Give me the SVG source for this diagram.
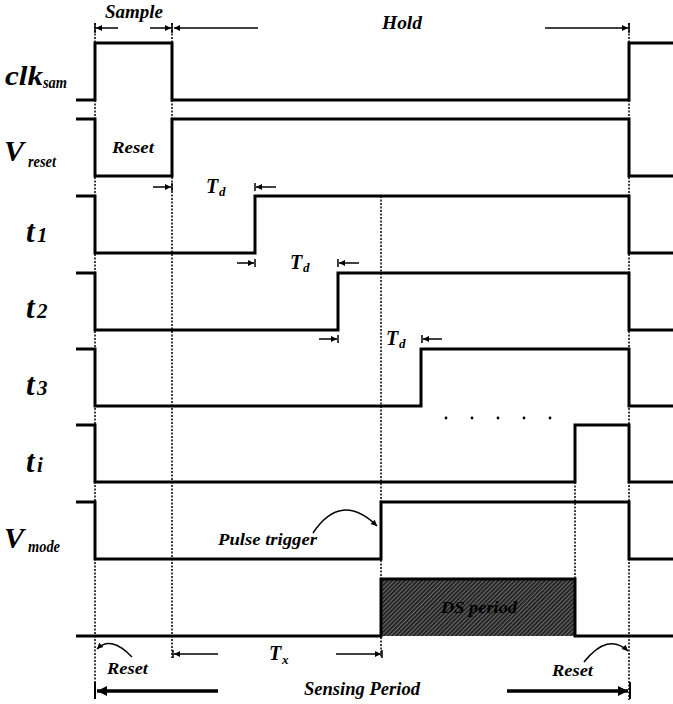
<svg xmlns="http://www.w3.org/2000/svg" width="673" height="704" viewBox="0 0 673 704">
<style>
text{font-family:"Liberation Serif","Times New Roman",serif;font-weight:bold;font-style:italic;fill:#000}
.sig{fill:none;stroke:#000;stroke-width:3;stroke-linejoin:miter}
.dot{fill:none;stroke:#000;stroke-width:1.5;stroke-dasharray:2 1.5}
.thin{fill:none;stroke:#000;stroke-width:1.5}
.tick{stroke:#000;stroke-width:1.5}
.thick{fill:none;stroke:#000;stroke-width:3.5}
.sub{font-weight:bold}
</style>
<defs>
<marker id="ah" viewBox="0 0 10 10" refX="10" refY="5" markerWidth="7" markerHeight="6" markerUnits="userSpaceOnUse" orient="auto"><path d="M0,0 L10,5 L0,10 z" fill="#000"/></marker>
<marker id="ahb" viewBox="0 0 10 10" refX="10" refY="5" markerWidth="12" markerHeight="10" markerUnits="userSpaceOnUse" orient="auto"><path d="M0,0 L10,5 L0,10 z" fill="#000"/></marker>
<pattern id="hatch" width="3" height="3" patternUnits="userSpaceOnUse" patternTransform="rotate(45)"><rect width="3" height="3" fill="#666"/><line x1="0.8" y1="0" x2="0.8" y2="3" stroke="#1a1a1a" stroke-width="1.7"/></pattern>
</defs>
<rect width="673" height="704" fill="#fff"/>

<g id="guides">
<line class="dot" x1="95" y1="23" x2="95" y2="698"/>
<line class="dot" x1="172" y1="23" x2="172" y2="658"/>
<line class="dot" x1="381" y1="196" x2="381" y2="658"/>
<line class="dot" x1="575" y1="482" x2="575" y2="580"/>
<line class="dot" x1="629" y1="23" x2="629" y2="700"/>
</g>

<g id="clk_sam">
<polyline class="sig" points="76,100 95,100 95,43 172,43 172,100 629,100 629,43 673,43"/>
<text x="5" y="85" font-size="27" textLength="38" lengthAdjust="spacingAndGlyphs">clk</text>
<text x="43" y="88" font-size="17" textLength="24" lengthAdjust="spacingAndGlyphs">sam</text>
</g>
<g id="v_reset">
<polyline class="sig" points="76,119 95,119 95,176 172,176 172,119 629,119 629,176 673,176"/>
<text x="4" y="161" font-size="30">V</text>
<text x="28" y="167" font-size="16" textLength="28" lengthAdjust="spacingAndGlyphs">reset</text>
<text x="112" y="153" font-size="17" textLength="42" lengthAdjust="spacingAndGlyphs">Reset</text>
</g>
<g id="t1">
<polyline class="sig" points="76,196 95,196 95,253 255,253 255,196 629,196 629,253 673,253"/>
<text x="26" y="242" font-size="31">t</text>
<text class="sub" x="37" y="242" font-size="21">1</text>
</g>
<g id="t2">
<polyline class="sig" points="76,273 95,273 95,330 338,330 338,273 629,273 629,330 673,330"/>
<text x="26" y="318" font-size="31">t</text>
<text class="sub" x="37" y="318" font-size="21">2</text>
</g>
<g id="t3">
<polyline class="sig" points="76,349 95,349 95,406 421,406 421,349 629,349 629,406 673,406"/>
<text x="26" y="395" font-size="31">t</text>
<text class="sub" x="37" y="395" font-size="21">3</text>
</g>
<g id="ti">
<polyline class="sig" points="76,425 95,425 95,482 575,482 575,425 629,425 629,482 673,482"/>
<text x="26" y="472" font-size="31">t</text>
<text class="sub" x="37" y="472" font-size="21">i</text>
<circle cx="446" cy="418" r="1.4"/>
<circle cx="472" cy="418" r="1.4"/>
<circle cx="498" cy="418" r="1.4"/>
<circle cx="524" cy="418" r="1.4"/>
<circle cx="550" cy="418" r="1.4"/>
</g>
<g id="v_mode">
<polyline class="sig" points="76,502 95,502 95,559 381,559 381,502 629,502 629,559 673,559"/>
<text x="4" y="548" font-size="30">V</text>
<text x="28" y="552" font-size="16" textLength="32" lengthAdjust="spacingAndGlyphs">mode</text>
<text x="218" y="545" font-size="17" textLength="99" lengthAdjust="spacingAndGlyphs">Pulse trigger</text>
</g>
<g id="ds_period">
<rect x="381" y="579" width="194" height="57" fill="url(#hatch)"/>
<polyline class="sig" points="76,636 381,636 381,579 575,579 575,636 673,636"/>
<text x="441" y="613" font-size="17" textLength="76" lengthAdjust="spacingAndGlyphs">DS period</text>
</g>

<g id="labels">
<text x="105" y="18" font-size="18" textLength="58" lengthAdjust="spacingAndGlyphs">Sample</text>
<text x="382" y="29" font-size="19" textLength="40" lengthAdjust="spacingAndGlyphs">Hold</text>
<text x="206" y="193" font-size="20">T</text><text x="219" y="196" font-size="13">d</text>
<text x="290" y="269" font-size="20">T</text><text x="303" y="272" font-size="13">d</text>
<text x="386" y="345" font-size="20">T</text><text x="399" y="348" font-size="13">d</text>
<text x="269" y="660" font-size="20">T</text><text x="282" y="664" font-size="13">x</text>
<text x="107" y="674" font-size="17" textLength="41" lengthAdjust="spacingAndGlyphs">Reset</text>
<text x="552" y="676" font-size="17" textLength="41" lengthAdjust="spacingAndGlyphs">Reset</text>
<text x="304" y="695" font-size="18" textLength="116" lengthAdjust="spacingAndGlyphs">Sensing Period</text>
</g>

<g id="connectors">
<line class="tick" x1="95" y1="23" x2="95" y2="33"/>
<line class="thin" x1="118" y1="28" x2="96" y2="28" marker-end="url(#ah)"/>
<line class="thin" x1="150" y1="28" x2="171" y2="28" marker-end="url(#ah)"/>
<line class="tick" x1="172" y1="23" x2="172" y2="33"/>
<line class="thin" x1="258" y1="28" x2="174" y2="28" marker-end="url(#ah)"/>
<line class="thin" x1="545" y1="28" x2="628" y2="28" marker-end="url(#ah)"/>
<line class="tick" x1="629" y1="23" x2="629" y2="33"/>

<line class="thin" x1="153" y1="187" x2="171" y2="187" marker-end="url(#ah)"/>
<line class="tick" x1="172" y1="183" x2="172" y2="191"/>
<line class="thin" x1="276" y1="187" x2="256" y2="187" marker-end="url(#ah)"/>
<line class="tick" x1="255" y1="183" x2="255" y2="191"/>

<line class="thin" x1="237" y1="263" x2="254" y2="263" marker-end="url(#ah)"/>
<line class="tick" x1="255" y1="259" x2="255" y2="267"/>
<line class="thin" x1="359" y1="263" x2="339" y2="263" marker-end="url(#ah)"/>
<line class="tick" x1="338" y1="259" x2="338" y2="267"/>

<line class="thin" x1="319" y1="339" x2="337" y2="339" marker-end="url(#ah)"/>
<line class="tick" x1="338" y1="335" x2="338" y2="343"/>
<line class="thin" x1="442" y1="339" x2="423" y2="339" marker-end="url(#ah)"/>
<line class="tick" x1="422" y1="335" x2="422" y2="343"/>

<path class="thin" d="M313,533 Q341,491 377,526" marker-end="url(#ah)"/>

<line class="tick" x1="173" y1="650" x2="173" y2="658"/>
<line class="thin" x1="218" y1="654" x2="174" y2="654" marker-end="url(#ah)"/>
<line class="thin" x1="336" y1="654" x2="381" y2="654" marker-end="url(#ah)"/>
<line class="tick" x1="382" y1="650" x2="382" y2="658"/>

<path class="thin" d="M132,657 Q111,635 97,649" marker-end="url(#ah)"/>
<path class="thin" d="M584,662 Q608,632 628,651" marker-end="url(#ah)"/>

<line class="tick" x1="95" y1="682" x2="95" y2="699" style="stroke-width:2"/>
<line class="thick" x1="218" y1="691" x2="97" y2="691" marker-end="url(#ahb)"/>
<line class="thick" x1="507" y1="691" x2="628" y2="691" marker-end="url(#ahb)"/>
<line class="tick" x1="630" y1="682" x2="630" y2="699" style="stroke-width:2"/>
</g>
</svg>
